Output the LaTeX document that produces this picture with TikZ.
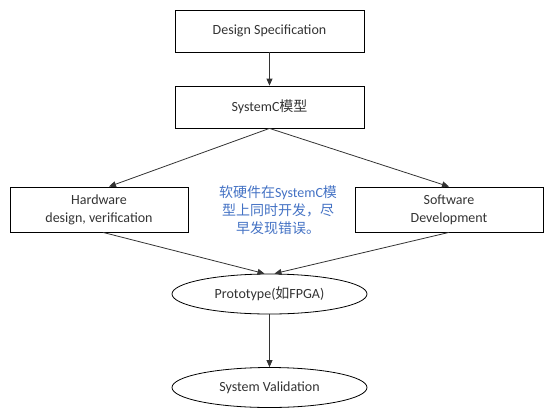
\documentclass[tikz,border=0pt]{standalone}
\usepackage{fontspec}
\setmainfont{Carlito}
\newfontfamily\cjk{Noto Sans CJK SC}
\usepackage{tikz}
\usetikzlibrary{arrows.meta,shapes.geometric}
\definecolor{noteblue}{HTML}{4472C4}

\begin{document}
\begin{tikzpicture}[x=1pt,y=-1pt,
    font=\fontsize{14}{18}\selectfont,
    box/.style={draw,line width=0.8pt,text=black!80,align=center,inner sep=0pt},
    oval/.style={draw,line width=0.8pt,ellipse,text=black!80,inner sep=0pt,minimum width=195pt,minimum height=40pt},
    flow/.style={draw,line width=0.8pt,black!80,-{Triangle[length=7pt,width=6pt]}}]
            \useasboundingbox (0,0) rectangle (551,410);
            \node[box,minimum width=189pt,minimum height=42pt] (spec) at (269.5,31) {Design Specification};
            \node[box,minimum width=189pt,minimum height=42pt] (model) at (269.5,107) {SystemC{\cjk 模型}};
            \node[box,minimum width=178pt,minimum height=45pt] (hw) at (99,209.5) {Hardware\\design, verification};
            \node[box,minimum width=188pt,minimum height=45pt] (sw) at (449,209.5) {Software\\Development};
            \node[oval] (proto) at (269.5,294) {Prototype({\cjk 如}FPGA)};
            \node[oval] (valid) at (269.5,387.5) {System Validation};
            \node[text=noteblue,align=center,inner sep=0pt] (note) at (278,210)
                {{\cjk 软硬件在}SystemC{\cjk 模}\\{\cjk 型上同时开发，尽}\\{\cjk 早发现错误。}};

            \draw[flow] (spec) -- (model);
            \draw[flow] (model.south) -- ([xshift=10pt]hw.north);
            \draw[flow] (model.south) -- (sw.north);
            \draw[flow] ([xshift=4pt]hw.south) -- ([xshift=-5pt]proto.north);
            \draw[flow] (sw.south) -- ([xshift=5pt]proto.north);
            \draw[flow] (proto) -- (valid);
          \end{tikzpicture}
\end{document}
